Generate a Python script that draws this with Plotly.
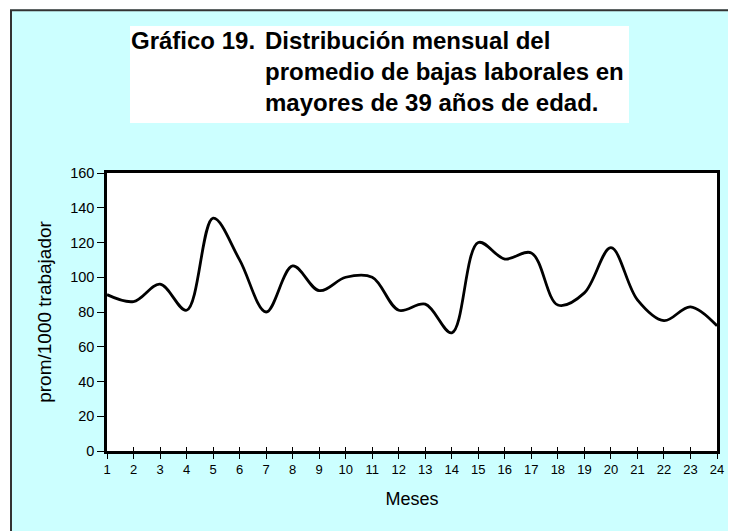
import plotly.graph_objects as go

# ---- data ----
months = list(range(1, 25))
tick_labels = [str(m) for m in months]
values = [90, 86, 96, 81, 134, 110, 80, 106.5, 92.3, 100,
          100, 81, 84.5, 68, 120, 110.5, 114, 84, 91, 117,
          87, 75, 83, 72]
y_ticks = [0, 20, 40, 60, 80, 100, 120, 140, 160]

title_head = "Gráfico 19."
title_body = "Distribución mensual del<br>promedio de bajas laborales en<br>mayores de 39 años de edad."
x_title = "Meses"
y_title = "prom/1000 trabajador"

# ---- layout geometry (pixels in the target picture) ----
OFF = 8                      # page body margin of the browser
W, H = 736 - OFF, 531 - OFF
PL, PR, PT, PB = 107 - OFF, 717 - OFF, 173 - OFF, 451 - OFF   # plot area edges


def px2x(p):
    return (p - OFF - PL) / (PR - PL)


def px2y(p):
    return (PB - (p - OFF)) / (PB - PT)


FONT = "Liberation Sans, Arial, sans-serif"
CYAN = "#CCFFFF"

fig = go.Figure()
fig.add_trace(go.Scatter(
    x=months, y=values, mode="lines",
    line=dict(color="black", width=2.8, shape="spline", smoothing=1.0),
    hoverinfo="x+y", showlegend=False,
))
# invisible trace for the overlay axis that draws the inner half of the x ticks
fig.add_trace(go.Scatter(
    x=months, y=values, mode="lines", xaxis="x2",
    line=dict(color="rgba(0,0,0,0)", width=0), hoverinfo="skip", showlegend=False,
))

shapes = [
    # white strips outside the chart frame
    dict(type="rect", xref="paper", yref="paper", layer="below",
         x0=px2x(-20), x1=px2x(10.5), y0=px2y(580), y1=px2y(-20),
         fillcolor="white", line=dict(width=0)),
    dict(type="rect", xref="paper", yref="paper", layer="below",
         x0=px2x(-20), x1=px2x(780), y0=px2y(9.5), y1=px2y(-20),
         fillcolor="white", line=dict(width=0)),
    # chart frame
    dict(type="rect", xref="paper", yref="paper", layer="below",
         x0=px2x(11), x1=px2x(780), y0=px2y(580), y1=px2y(10.3),
         fillcolor="rgba(0,0,0,0)", line=dict(color="#333333", width=2)),
    # white box behind the title
    dict(type="rect", xref="paper", yref="paper", layer="below",
         x0=px2x(130), x1=px2x(629), y0=px2y(123), y1=px2y(26),
         fillcolor="white", line=dict(width=0)),
]

annotations = [
    dict(text="<b>" + title_head + "</b>", xref="paper", yref="paper",
         x=px2x(129), y=px2y(25), xanchor="left", yanchor="top",
         showarrow=False, align="left",
         font=dict(family=FONT, size=24, color="black")),
    dict(text="<b>" + title_body + "</b>", xref="paper", yref="paper",
         x=px2x(263), y=px2y(25), xanchor="left", yanchor="top",
         showarrow=False, align="left",
         font=dict(family=FONT, size=24, color="black")),
]

fig.update_layout(
    width=W, height=H,
    margin=dict(l=PL, r=W - PR, t=PT, b=H - PB, pad=0),
    paper_bgcolor=CYAN, plot_bgcolor="white",
    font=dict(family=FONT, color="black"),
    shapes=shapes, annotations=annotations,
    xaxis=dict(
        range=[1, 24], tickmode="array", tickvals=months, ticktext=tick_labels,
        ticks="outside", ticklen=5, tickwidth=1, tickcolor="black",
        tickfont=dict(family=FONT, size=13, color="black"),
        showline=True, linewidth=2.5, linecolor="black", mirror=True,
        showgrid=False, zeroline=False,
        title=dict(text=x_title, standoff=17,
                   font=dict(family=FONT, size=18, color="black")),
        automargin=False,
    ),
    xaxis2=dict(
        overlaying="x", matches="x", anchor="y", side="bottom",
        tickmode="array", tickvals=months,
        ticks="inside", ticklen=4, tickwidth=1, tickcolor="black",
        showticklabels=False, showline=False, showgrid=False, zeroline=False,
    ),
    yaxis=dict(
        range=[0, 160], tickmode="array", tickvals=y_ticks,
        ticktext=[str(v) for v in y_ticks],
        ticks="outside", ticklen=7, tickwidth=1, tickcolor="black",
        tickfont=dict(family=FONT, size=14.5, color="black"),
        showline=True, linewidth=2.5, linecolor="black", mirror=True,
        showgrid=False, zeroline=False,
        title=dict(text=y_title, standoff=14,
                   font=dict(family=FONT, size=19, color="black")),
        automargin=False,
    ),
)

fig.write_html("out.html")
